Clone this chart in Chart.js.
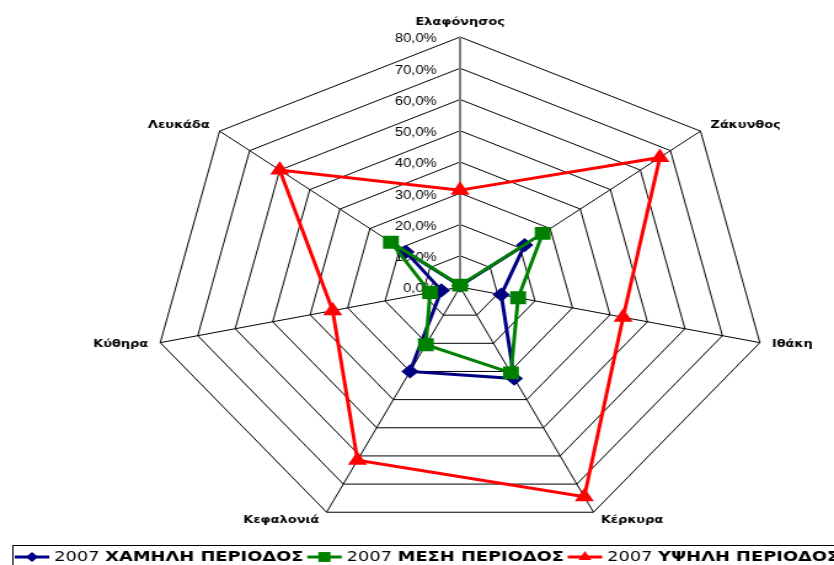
<!DOCTYPE html>
<html>
<head>
<meta charset="utf-8">
<script src="https://cdn.jsdelivr.net/npm/chart.js@4/dist/chart.umd.min.js"></script>
<style>
    body { margin: 0; background: #fff; overflow: hidden; }
    /* the original picture is stretched sideways, so the whole chart is too */
    #wrap { width: 678px; height: 565px; transform: scaleX(1.2301); transform-origin: 0 0; }
</style>
</head>
<body>
<div id="wrap"><canvas id="radarChart" width="678" height="565"></canvas></div>
<script>
// Island categories (clockwise from the top)
const islands = ['Ελαφόνησος', 'Ζάκυνθος', 'Ιθάκη', 'Κέρκυρα', 'Κεφαλονιά', 'Κύθηρα', 'Λευκάδα'];

// Series: share per island, in percent
const year = '2007';
const periods = ['ΧΑΜΗΛΗ ΠΕΡΙΟΔΟΣ', 'ΜΕΣΗ ΠΕΡΙΟΔΟΣ', 'ΥΨΗΛΗ ΠΕΡΙΟΔΟΣ'];
const lowSeason = [0.4, 21.5, 11.0, 32.5, 30.0, 5.0, 18.0];
const midSeason = [0.6, 27.5, 15.5, 30.5, 20.5, 8.0, 23.0];
const highSeason = [31.0, 66.5, 43.5, 74.5, 61.5, 34.0, 60.0];

// Value axis
const axisMin = 0;
const axisMax = 80;
const axisStep = 10;

const seriesColors = ['#000080', '#008000', '#FF0000'];
const seriesPoints = ['rectRot', 'rect', 'triangle'];
const seriesRadius = [5, 7, 6];

function formatPct(value) {
    return value.toFixed(1).replace('.', ',') + '%';
}

function drawMarker(ctx, style, x, y, r) {
    ctx.beginPath();
    if (style === 'rectRot') {
        ctx.moveTo(x - r, y); ctx.lineTo(x, y - r); ctx.lineTo(x + r, y); ctx.lineTo(x, y + r);
    } else if (style === 'rect') {
        const s = Math.SQRT1_2 * r;
        ctx.rect(x - s, y - s, 2 * s, 2 * s);
    } else {
        ctx.moveTo(x, y - r); ctx.lineTo(x + r * 0.866, y + r / 2); ctx.lineTo(x - r * 0.866, y + r / 2);
    }
    ctx.closePath();
    ctx.fill();
}

const labelPlugin = {
    id: 'islandLabels',
    beforeDatasetsDraw(chart) {
        // percent labels left of the vertical axis
        const scale = chart.scales.r;
        const ctx = chart.ctx;
        ctx.save();
        ctx.font = '12px "Liberation Sans", Arial, sans-serif';
        ctx.fillStyle = '#000';
        ctx.textAlign = 'right';
        ctx.textBaseline = 'middle';
        scale.ticks.forEach(t => {
            const d = scale.getDistanceFromCenterForValue(t.value);
            ctx.fillText(formatPct(t.value), scale.xCenter - 19, scale.yCenter - d + 2);
        });
        ctx.restore();
    },
    afterDraw(chart) {
        const scale = chart.scales.r;
        const ctx = chart.ctx;
        ctx.save();
        ctx.fillStyle = '#000';
        ctx.font = 'bold 10.5px "DejaVu Sans", Verdana, sans-serif';
        islands.forEach((name, i) => {
            const p = scale.getPointPosition(i, scale.drawingArea);
            const a = scale.getIndexAngle(i);
            const s = Math.sin(a), c = Math.cos(a);
            if (Math.abs(s) < 0.01) {
                ctx.textAlign = 'center';
                ctx.textBaseline = 'bottom';
                ctx.fillText(name, p.x, p.y - 9);
            } else {
                const gap = 5 + 5 * s * s;
                ctx.textAlign = s > 0 ? 'left' : 'right';
                ctx.textBaseline = 'middle';
                ctx.fillText(name, p.x + (s > 0 ? gap : -gap), p.y - 9 * c);
            }
        });

        // legend box along the bottom
        ctx.strokeStyle = '#000';
        ctx.lineWidth = 1;
        ctx.strokeRect(10.5, 545.5, 720, 40);
        const regular = '14.5px "DejaVu Sans", Verdana, sans-serif';
        const bold = 'bold 14.5px "DejaVu Sans", Verdana, sans-serif';
        const ly = 557;
        let x = 12;
        periods.forEach((period, i) => {
            ctx.strokeStyle = seriesColors[i];
            ctx.fillStyle = seriesColors[i];
            ctx.lineWidth = 3;
            ctx.beginPath();
            ctx.moveTo(x, ly);
            ctx.lineTo(x + 28, ly);
            ctx.stroke();
            drawMarker(ctx, seriesPoints[i], x + 14, ly, seriesRadius[i]);
            x += 32;
            ctx.fillStyle = '#000';
            ctx.textAlign = 'left';
            ctx.textBaseline = 'middle';
            ctx.font = regular;
            const yearText = year + ' ';
            ctx.fillText(yearText, x, ly);
            x += ctx.measureText(yearText).width;
            ctx.font = bold;
            ctx.fillText(period, x, ly);
            x += ctx.measureText(period).width + 3;
        });
        ctx.restore();
    }
};

const seriesData = [lowSeason, midSeason, highSeason];

new Chart(document.getElementById('radarChart').getContext('2d'), {
    type: 'radar',
    data: {
        labels: islands,
        datasets: periods.map((period, i) => ({
            label: year + ' ' + period,
            data: seriesData[i],
            borderColor: seriesColors[i],
            backgroundColor: seriesColors[i],
            pointBackgroundColor: seriesColors[i],
            pointBorderColor: seriesColors[i],
            pointStyle: seriesPoints[i],
            pointRadius: seriesRadius[i],
            borderWidth: 3,
            fill: false,
            tension: 0,
            order: 3 - i
        }))
    },
    options: {
        responsive: false,
        animation: false,
        layout: {
            padding: { left: 90, right: 20, top: 37, bottom: 28 }
        },
        scales: {
            r: {
                min: axisMin,
                max: axisMax,
                ticks: { stepSize: axisStep, display: false },
                pointLabels: { display: false },
                grid: { color: '#000', lineWidth: 1 },
                angleLines: {
                    color: ctx => ctx.index === 0 ? '#808080' : '#000',
                    lineWidth: ctx => ctx.index === 0 ? 2 : 1
                }
            }
        },
        plugins: {
            legend: { display: false },
            tooltip: { enabled: false }
        }
    },
    plugins: [labelPlugin]
});
</script>
</body>
</html>
